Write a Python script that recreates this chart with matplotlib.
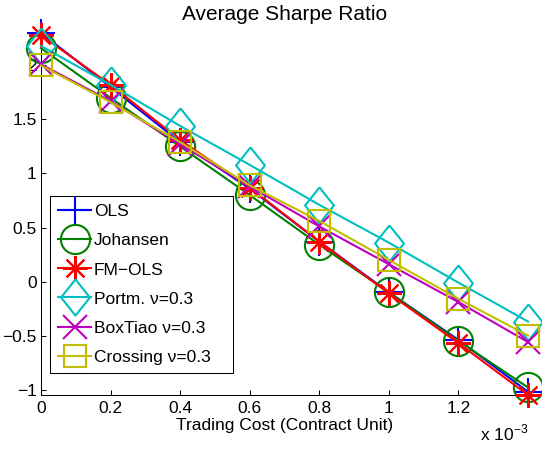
import matplotlib
matplotlib.use("Agg")
import matplotlib.pyplot as plt
import numpy as np

plt.rcParams["font.family"] = ["Liberation Sans", "DejaVu Sans"]
plt.rcParams["font.size"] = 12.5

cost = [0, 0.2e-3, 0.4e-3, 0.6e-3, 0.8e-3, 1.0e-3, 1.2e-3, 1.4e-3]
ols = [2.30, 1.80, 1.29, 0.86, 0.37, -0.10, -0.54, -1.02]
johansen = [2.16, 1.70, 1.25, 0.80, 0.34, -0.10, -0.55, -0.98]
fmols = [2.28, 1.82, 1.31, 0.87, 0.37, -0.11, -0.57, -1.05]
portm = [2.18, 1.82, 1.44, 1.08, 0.71, 0.36, -0.01, -0.37]
boxtiao = [2.01, 1.67, 1.27, 0.88, 0.51, 0.16, -0.19, -0.56]
crossing = [2.00, 1.66, 1.29, 0.89, 0.56, 0.20, -0.16, -0.50]

xticks = [0, 0.2e-3, 0.4e-3, 0.6e-3, 0.8e-3, 1.0e-3, 1.2e-3]
xticklabels = ["0", "0.2", "0.4", "0.6", "0.8", "1", "1.2"]
yticks = [-1, -0.5, 0, 0.5, 1, 1.5, 2]
yticklabels = ["\u22121", "\u22120.5", "0", "0.5", "1", "1.5", "2"]

diamond = [(0, 1), (0.8, 0), (0, -1), (-0.8, 0), (0, 1)]

series = [
    (ols, "OLS", (0, 0, 1), "+", 20),
    (johansen, "Johansen", (0, 0.5, 0), "o", 21),
    (fmols, "FM\u2212OLS", (1, 0, 0), (8, 2, 0), 18),
    (portm, "Portm. \u03bd=0.3", (0, 0.75, 0.75), diamond, 26),
    (boxtiao, "BoxTiao \u03bd=0.3", (0.75, 0, 0.75), "x", 17),
    (crossing, "Crossing \u03bd=0.3", (0.75, 0.75, 0), "s", 16),
]

fig = plt.figure(figsize=(5.42, 4.49), dpi=100)
ax = fig.add_axes([41 / 542, 1 - 395 / 449, 487 / 542, 362 / 449])

for vals, name, col, mk, ms in series:
    ax.plot(cost, vals, color=col, marker=mk, markersize=ms, lw=1.5,
            markeredgewidth=1.5, markerfacecolor="none", label=name,
            clip_on=False, zorder=3)

ax.set_xlim(0, 1.4e-3)
ax.set_ylim(-1.05, 2.30)
ax.set_xticks(xticks)
ax.set_xticklabels(xticklabels)
ax.set_yticks(yticks)
ax.set_yticklabels(yticklabels)
ax.tick_params(direction="in", length=3.5, width=0.75, pad=4)
ax.tick_params(axis="y", pad=3)
for s in ["top", "right"]:
    ax.spines[s].set_visible(False)
for s in ["left", "bottom"]:
    ax.spines[s].set_linewidth(0.75)

ax.set_title("Average Sharpe Ratio", pad=9)
ax.set_xlabel("Trading Cost (Contract Unit)", labelpad=2)
ax.text(1.0, -0.077, "x 10$^{\\mathregular{\u22123}}$", transform=ax.transAxes,
        ha="right", va="top")

leg = ax.legend(loc="lower left", bbox_to_anchor=(0.0185, 0.0608, 0.376, 0.497),
                mode="expand", borderaxespad=0, fancybox=False, framealpha=1,
                edgecolor="black", handlelength=1.9, handletextpad=0.15,
                labelspacing=0.8, borderpad=0.48)
leg.get_frame().set_linewidth(0.75)
leg.set_zorder(5)

fig.savefig("out.png", dpi=100)
